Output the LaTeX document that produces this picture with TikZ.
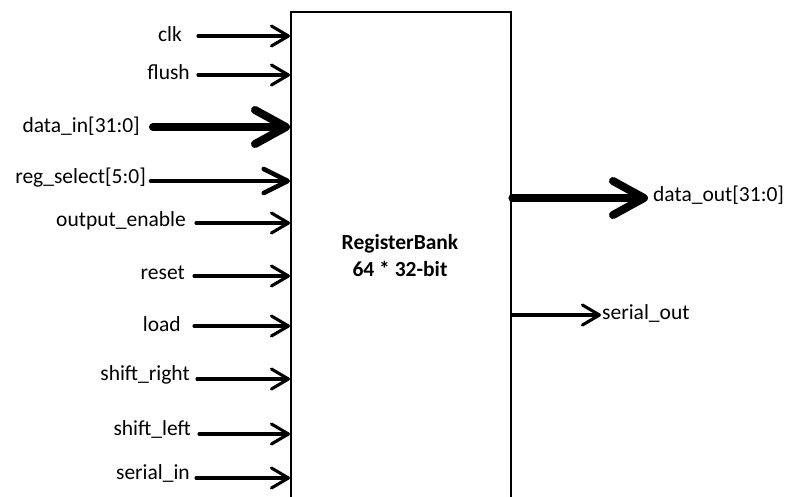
\documentclass[tikz,border=0pt]{standalone}
\usepackage{fontspec}
\setmainfont{Carlito}
\usetikzlibrary{arrows.meta}
\begin{document}
\begin{tikzpicture}[x=1pt,y=-1pt,
  lbl/.style={font=\fontsize{21.5}{24}\selectfont, inner sep=0pt},
  thin/.style={line width=3.1pt, line cap=round,
    -{Straight Barb[length=17pt 0 0, width=20pt 0 0, round]}},
  mid/.style={line width=4.6pt, line cap=round,
    -{Straight Barb[length=24pt 0 0, width=24pt 0 0, round]}},
  bus/.style={line width=8pt, line cap=round,
    -{Straight Barb[length=31pt 0 0, width=34pt 0 0, round]}}]
\useasboundingbox (0,0) rectangle (787,496);
\fill[white] (0,0) rectangle (787,496);

% the register bank block (runs past the lower edge)
\node[draw, line width=2.4pt, minimum width=220pt, minimum height=520pt,
  anchor=north west, inner sep=0pt] (bank) at (290,11) {};
\node[font=\fontsize{21.5}{27}\selectfont\bfseries, align=center] (title)
  at (400,256) {RegisterBank\\64 * 32-bit};

% inputs: start point of each wire, then its label
\coordinate (clk)  at (198,36);
\coordinate (fl)   at (198,75);
\coordinate (din)  at (153,127);
\coordinate (rsel) at (151,181);
\coordinate (oe)   at (196,223);
\coordinate (rst)  at (194,276);
\coordinate (ld)   at (194,326);
\coordinate (shr)  at (197,379);
\coordinate (shl)  at (199,434);
\coordinate (sin)  at (196,478);

\node[lbl, anchor=east] (clk-l)  at (182,34)  {clk};
\node[lbl, anchor=east] (fl-l)   at (190,72)  {flush};
\node[lbl, anchor=east] (din-l)  at (140,126) {data\_in[31:0]};
\node[lbl, anchor=east] (rsel-l) at (146,178) {reg\_select[5:0]};
\node[lbl, anchor=east] (oe-l)   at (186,221) {output\_enable};
\node[lbl, anchor=east] (rst-l)  at (185,273) {reset};
\node[lbl, anchor=east] (ld-l)   at (181,324) {load};
\node[lbl, anchor=east] (shr-l)  at (190,375) {shift\_right};
\node[lbl, anchor=east] (shl-l)  at (191,429) {shift\_left};
\node[lbl, anchor=east] (sin-l)  at (190,473) {serial\_in};

\draw[thin] (clk)  -- (clk  -| bank.west);
\draw[thin] (fl)   -- (fl   -| bank.west);
\draw[bus]  (din)  -- (din  -| bank.west);
\draw[mid]  (rsel) -- (rsel -| bank.west);
\draw[thin] (oe)   -- (oe   -| bank.west);
\draw[thin] (rst)  -- (rst  -| bank.west);
\draw[thin] (ld)   -- (ld   -| bank.west);
\draw[thin] (shr)  -- (shr  -| bank.west);
\draw[thin] (shl)  -- (shl  -| bank.west);
\draw[thin] (sin)  -- (sin  -| bank.west);

% outputs
\coordinate (dout) at (648,198);
\coordinate (sout) at (601,315);
\node[lbl, anchor=west] (dout-l) at (653,195) {data\_out[31:0]};
\node[lbl, anchor=west] (sout-l) at (602,313) {serial\_out};
\draw[bus]  (dout -| bank.east) -- (dout);
\draw[thin] (sout -| bank.east) -- (sout);
\end{tikzpicture}
\end{document}
